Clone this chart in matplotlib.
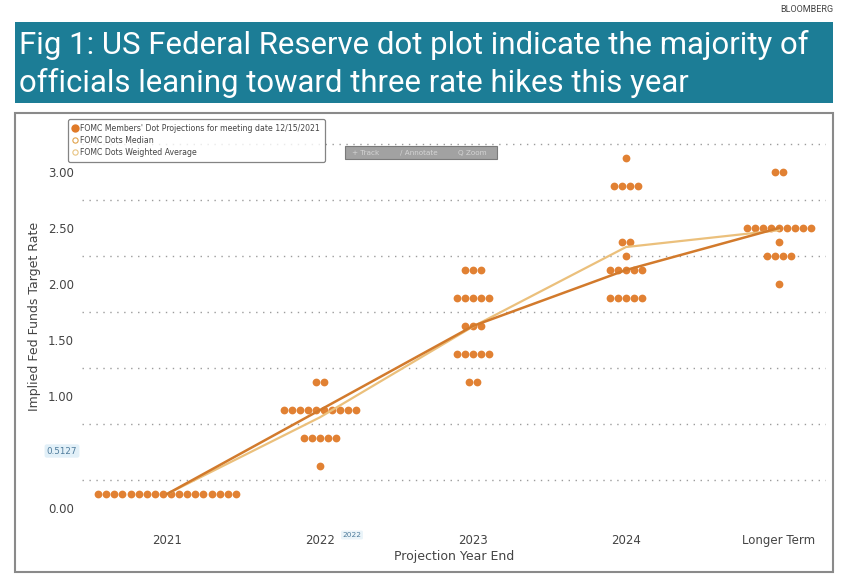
import matplotlib
matplotlib.use("Agg")
import matplotlib.pyplot as plt
from matplotlib.patches import Rectangle
from matplotlib.lines import Line2D
import numpy as np

# ---------------- data ----------------
categories = ["2021", "2022", "2023", "2024", "Longer Term"]

rates_2021 = [0.125]
counts_2021 = [18]
rates_2022 = [0.375, 0.625, 0.875, 1.125]
counts_2022 = [1, 5, 10, 2]
rates_2023 = [1.125, 1.375, 1.625, 1.875, 2.125]
counts_2023 = [2, 5, 3, 5, 3]
rates_2024 = [1.875, 2.125, 2.25, 2.375, 2.875, 3.125]
counts_2024 = [5, 5, 1, 2, 4, 1]
rates_lt = [2.0, 2.25, 2.375, 2.5, 3.0]
counts_lt = [1, 4, 1, 9, 2]

median_vals = [0.125, 0.875, 1.625, 2.125, 2.5]
wavg_vals = [0.125, 0.81, 1.62, 2.33, 2.48]

ytick_vals = [0.0, 1.0, 1.5, 2.0, 2.5, 3.0]
grid_vals = [0.25, 0.75, 1.25, 1.75, 2.25, 2.75, 3.25]

dot_rates = [rates_2021, rates_2022, rates_2023, rates_2024, rates_lt]
dot_counts = [counts_2021, counts_2022, counts_2023, counts_2024, counts_lt]

title_line1 = "Fig 1: US Federal Reserve dot plot indicate the majority of"
title_line2 = "officials leaning toward three rate hikes this year"

# ---------------- figure ----------------
W, H = 842, 581
fig = plt.figure(figsize=(W / 100, H / 100), dpi=100)
fig.patch.set_facecolor("white")

def fx(px):
    return px / W

def fy(py):
    return 1 - py / H

# title bar
fig.patches.append(Rectangle((fx(15), fy(103)), fx(833) - fx(15), fy(22) - fy(103),
                             transform=fig.transFigure, facecolor="#1c7d96",
                             edgecolor="none", zorder=0))
title_font = ["Roboto", "DejaVu Sans"]
t1 = fig.text(fx(19), fy(45), title_line1, color="white", fontsize=24,
              family=title_font, fontweight="normal", va="center", ha="left")
t2 = fig.text(fx(19), fy(83), title_line2, color="white", fontsize=24,
              family=title_font, fontweight="normal", va="center", ha="left")
renderer = fig.canvas.get_renderer()
w1 = t1.get_window_extent(renderer=renderer).width
fs = 24 * 790.0 / w1
t1.set_fontsize(fs)
t2.set_fontsize(fs)

fig.text(fx(833), fy(10), "BLOOMBERG", color="#444444", fontsize=6.5,
         family=title_font, ha="right", va="center")

# chart frame
fig.patches.append(Rectangle((fx(15), fy(572)), fx(833) - fx(15), fy(113) - fy(572),
                             transform=fig.transFigure, facecolor="none",
                             edgecolor="#8a8a8a", linewidth=1.5, zorder=5))

# axes
ax_left, ax_right, ax_top, ax_bottom = 82, 826, 118, 515
ax = fig.add_axes([fx(ax_left), fy(ax_bottom), fx(ax_right) - fx(ax_left),
                   fy(ax_top) - fy(ax_bottom)])
ax.set_facecolor("white")
for s in ax.spines.values():
    s.set_visible(False)

px_per_cat = (779 - 167) / 4
ax.set_xlim((ax_left - 167) / px_per_cat, (ax_right - 167) / px_per_cat)
ax.set_ylim((508 - ax_bottom) / 112, (508 - ax_top) / 112)

for g in grid_vals:
    ax.axhline(g, color="#9c9c9c", linewidth=1.0, linestyle=(0, (1, 4)), zorder=1)

# dots
spacing = 8.1 / px_per_cat
dot_color = "#e07a28"
for i, (rates, counts) in enumerate(zip(dot_rates, dot_counts)):
    for r, n in zip(rates, counts):
        offs = (np.arange(n) - (n - 1) / 2) * spacing
        ax.plot(i + offs, [r] * n, "o", color=dot_color, markersize=5.6,
                markeredgewidth=0, alpha=0.95, zorder=3)

xs = np.arange(len(categories))
ax.plot(xs, wavg_vals, color="#ebc07c", linewidth=1.6, zorder=4)
ax.plot(xs, median_vals, color="#d27a2c", linewidth=1.8, zorder=4)

ax.set_xticks(xs)
ax.set_xticklabels(categories, fontsize=8.5, color="#444444")
ax.set_yticks(ytick_vals)
ax.set_yticklabels(["%.2f" % v for v in ytick_vals], fontsize=8.5, color="#444444")
ax.tick_params(axis="both", length=0)
ax.tick_params(axis="x", pad=14)
ax.tick_params(axis="y", pad=6)
ax.set_xlabel("Projection Year End", fontsize=9, color="#444444", labelpad=2)
ax.set_ylabel("Implied Fed Funds Target Rate", fontsize=9, color="#444444", labelpad=5)

# legend
handles = [
    Line2D([], [], marker="o", linestyle="none", color=dot_color, markersize=6,
           markeredgewidth=0),
    Line2D([], [], marker="o", linestyle="none", markerfacecolor="none",
           markeredgecolor="#e0a24a", markersize=3.8, markeredgewidth=0.8),
    Line2D([], [], marker="o", linestyle="none", markerfacecolor="none",
           markeredgecolor="#e8c482", markersize=3.8, markeredgewidth=0.8),
]
labels = ["FOMC Members' Dot Projections for meeting date 12/15/2021",
          "FOMC Dots Median", "FOMC Dots Weighted Average"]
leg = ax.legend(handles, labels, loc="upper left",
                bbox_to_anchor=(fx(68), fy(119)), bbox_transform=fig.transFigure,
                fontsize=5.6, frameon=True, handlelength=0.6, handletextpad=0.4,
                labelspacing=0.4, borderpad=0.6, fancybox=True, borderaxespad=0)
leg.get_frame().set_edgecolor("#666666")
leg.get_frame().set_linewidth(0.9)
for t in leg.get_texts():
    t.set_color("#444444")
leg.set_zorder(10)

# Track / Annotate / Zoom toolbar
fig.patches.append(Rectangle((fx(345), fy(159)), fx(497) - fx(345), fy(146) - fy(159),
                             transform=fig.transFigure, facecolor="#a2a2a2",
                             edgecolor="#7a7a7a", linewidth=0.8, zorder=6))
for txt, xp in [("+ Track", 352), ("\u2215 Annotate", 400), ("Q Zoom", 458)]:
    fig.text(fx(xp), fy(152.5), txt, fontsize=5.2, color="#d4d4d4",
             ha="left", va="center", zorder=7)

# hover labels
fig.text(fx(62), fy(451), "0.5127", fontsize=6.3, color="#4f7c9c", ha="center",
         va="center", bbox=dict(boxstyle="round,pad=0.25", facecolor="#e2f0f8",
                                edgecolor="none"))
fig.text(fx(352), fy(535), "2022", fontsize=5.3, color="#4f7c9c", ha="center",
         va="center", bbox=dict(boxstyle="round,pad=0.2", facecolor="#eaf4f9",
                                edgecolor="none"))

fig.savefig("out.png", dpi=100, facecolor="white")
